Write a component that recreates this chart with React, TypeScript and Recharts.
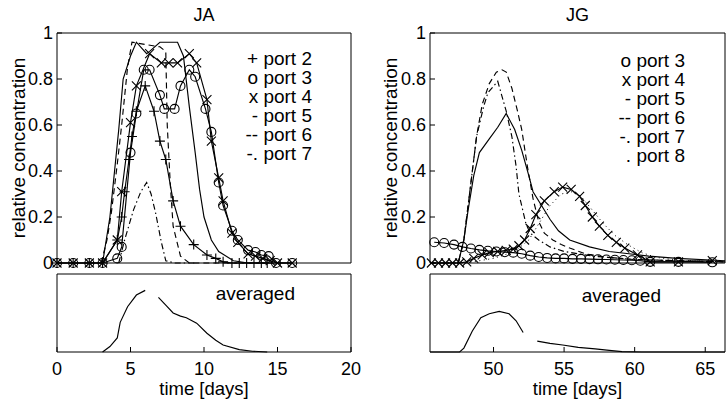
import React from 'react';
import { LineChart, Line, XAxis, YAxis } from 'recharts';

const FONT = '"Liberation Sans", Arial, Helvetica, sans-serif';
const INK = '#000';

// ---------- JA panel data ----------
const jaPort2Days = [0, 1.1, 2.2, 3.1, 4.1, 4.4, 4.6, 4.9, 5.1, 5.4, 6.0, 6.6, 7.0, 7.4, 7.9, 8.4, 9.3, 10.2, 10.8, 11.3, 11.9, 12.4, 12.9, 13.4, 13.9, 14.3];
const jaPort2Vals = [0, 0, 0, 0, 0.1, 0.2, 0.31, 0.45, 0.55, 0.66, 0.77, 0.66, 0.53, 0.45, 0.27, 0.16, 0.08, 0.035, 0.02, 0.005, 0, 0, 0, 0, 0, 0];

const jaPort3Days = [0, 1.1, 2.2, 3.1, 4.1, 4.4, 5.0, 5.4, 5.9, 6.3, 7.0, 7.3, 8.0, 8.4, 9.0, 9.4, 10.1, 10.5, 11.0, 11.3, 11.9, 12.3, 13.0, 13.5, 13.9, 14.4, 14.9, 16.0];
const jaPort3Vals = [0, 0, 0, 0, 0.02, 0.07, 0.48, 0.65, 0.84, 0.84, 0.73, 0.67, 0.67, 0.77, 0.84, 0.81, 0.67, 0.57, 0.35, 0.25, 0.14, 0.1, 0.056, 0.048, 0.035, 0.03, 0, 0];

const jaPort4Days = [0, 1.1, 2.2, 3.1, 4.1, 4.4, 5.0, 5.4, 6.3, 7.1, 7.6, 8.2, 9.0, 9.5, 10.2, 10.5, 11.0, 11.3, 11.9, 12.3, 13.0, 13.5, 14.0, 14.5, 15.0, 16.0];
const jaPort4Vals = [0, 0, 0, 0, 0.1, 0.31, 0.61, 0.77, 0.91, 0.87, 0.87, 0.87, 0.91, 0.87, 0.71, 0.53, 0.37, 0.27, 0.13, 0.09, 0.04, 0.03, 0.02, 0.01, 0, 0];

const jaPort5Days = [3.1, 3.6, 4.2, 4.5, 5.0, 5.4, 6.1, 6.3, 7.0, 8.2, 8.6, 9.0, 9.4, 9.7, 10.0, 10.5, 11.0, 12.0, 13.0, 16.0];
const jaPort5Vals = [0, 0.2, 0.58, 0.8, 0.9, 0.96, 0.91, 0.92, 0.96, 0.96, 0.9, 0.68, 0.48, 0.32, 0.2, 0.1, 0.05, 0.01, 0, 0];

const jaPort6Days = [3.0, 3.4, 3.7, 4.1, 4.4, 4.8, 5.1, 6.0, 7.0, 7.4, 7.5, 7.7, 7.9, 8.4, 9.0, 12.0];
const jaPort6Vals = [0, 0.1, 0.22, 0.43, 0.6, 0.85, 0.96, 0.95, 0.94, 0.92, 0.6, 0.35, 0.16, 0.03, 0, 0];

const jaPort7Days = [4.2, 4.6, 5.2, 5.7, 6.1, 6.4, 6.7, 7.1, 7.4, 8.0, 9.5];
const jaPort7Vals = [0, 0.1, 0.23, 0.31, 0.35, 0.3, 0.22, 0.09, 0.01, 0, 0];

const jaAvgDays = [3.1, 3.6, 4.1, 4.3, 4.8, 5.4, 6.0, 6.5, 6.9, 7.4, 7.9, 8.4, 8.8, 9.5, 10.2, 10.8, 11.3, 12.4, 13.3, 14.3];
const jaAvgVals = [0, 0.07, 0.18, 0.38, 0.58, 0.73, 0.79, null, 0.7, 0.6, 0.5, 0.46, 0.44, 0.37, 0.24, 0.15, 0.09, 0.03, 0.01, 0];

// ---------- JG panel data ----------
const jgPort3Days = [45.8, 46.5, 47.2, 47.8, 48.4, 49.0, 49.6, 50.2, 50.8, 51.4, 52.0, 52.6, 53.2, 53.8, 54.4, 55.0, 55.6, 56.2, 56.8, 57.4, 58.0, 58.6, 59.2, 59.8, 60.4, 61.1, 63.1, 65.5];
const jgPort3Vals = [0.09, 0.087, 0.08, 0.07, 0.063, 0.057, 0.053, 0.05, 0.047, 0.045, 0.04, 0.032, 0.026, 0.022, 0.02, 0.02, 0.018, 0.018, 0.017, 0.016, 0.015, 0.014, 0.013, 0.012, 0.01, 0.005, 0.005, 0.003];

const jgPort4Days = [45.6, 46.1, 46.6, 47.1, 47.6, 48.1, 48.6, 49.2, 49.7, 50.3, 50.9, 51.4, 51.8, 52.2, 52.6, 53.0, 53.6, 54.3, 54.9, 55.5, 56.1, 56.5, 57.0, 57.5, 58.1, 58.7, 59.3, 60.2, 61.1, 63.1, 65.5];
const jgPort4Vals = [0, 0, 0, 0, 0, 0.005, 0.02, 0.035, 0.045, 0.05, 0.055, 0.06, 0.075, 0.1, 0.15, 0.21, 0.27, 0.31, 0.33, 0.32, 0.29, 0.25, 0.2, 0.16, 0.12, 0.09, 0.065, 0.035, 0.005, 0.005, 0.01];

const jgPort5Days = [45.5, 47.5, 47.9, 48.2, 48.6, 49.0, 49.7, 50.3, 50.9, 51.5, 52.0, 52.5, 52.8, 53.5, 54.0, 54.6, 55.4, 56.8, 58.2, 59.6, 61.0, 63.0, 66.4];
const jgPort5Vals = [0, 0, 0.1, 0.23, 0.38, 0.48, 0.54, 0.59, 0.65, 0.58, 0.49, 0.38, 0.31, 0.24, 0.19, 0.14, 0.1, 0.07, 0.05, 0.04, 0.03, 0.02, 0.01];

const jgPort6Days = [45.5, 47.5, 47.9, 48.3, 48.8, 49.2, 49.7, 50.2, 50.6, 50.9, 51.3, 51.7, 52.0, 52.4, 52.8, 53.2, 53.6, 54.2, 54.8, 55.4, 56.5, 58.0, 60.0, 63.0, 66.4];
const jgPort6Vals = [0, 0, 0.1, 0.3, 0.55, 0.69, 0.78, 0.83, 0.84, 0.83, 0.76, 0.66, 0.58, 0.42, 0.28, 0.18, 0.13, 0.1, 0.08, 0.065, 0.04, 0.025, 0.015, 0.01, 0.005];

const jgPort7Days = [45.5, 47.5, 47.9, 48.3, 48.8, 49.3, 49.6, 50.3, 50.9, 51.3, 51.6, 51.8, 52.3, 52.6, 53.2, 54.0, 55.0, 57.0, 60.0, 66.4];
const jgPort7Vals = [0, 0, 0.1, 0.3, 0.55, 0.68, 0.74, 0.79, 0.66, 0.55, 0.42, 0.3, 0.17, 0.13, 0.1, 0.07, 0.05, 0.03, 0.015, 0.005];

const jgPort8Days = [45.5, 48.0, 50.0, 51.5, 52.5, 53.3, 54.0, 54.8, 55.5, 56.2, 57.0, 57.8, 58.6, 59.5, 60.5, 61.5, 63.0, 66.4];
const jgPort8Vals = [0, 0, 0.02, 0.05, 0.1, 0.18, 0.25, 0.3, 0.31, 0.29, 0.23, 0.17, 0.12, 0.08, 0.045, 0.025, 0.012, 0.005];

const jgAvgDays = [45.5, 47.6, 47.9, 48.5, 49.1, 49.7, 50.4, 51.1, 51.6, 52.1, 52.6, 53.1, 54.0, 54.9, 56.0, 57.2, 58.2, 59.1, 60.5, 66.4];
const jgAvgVals = [0, 0, 0.05, 0.27, 0.44, 0.49, 0.52, 0.49, 0.4, 0.25, null, 0.14, 0.11, 0.09, 0.06, 0.04, 0.02, 0.005, 0, 0];

// ---------- axes / labels ----------
const jaDomain: [number, number] = [0, 20];
const jaTicks = [0, 5, 10, 15, 20];
const jgDomain: [number, number] = [45.5, 66.4];
const jgTicks = [50, 55, 60, 65];
const mainYTicks = [0, 0.2, 0.4, 0.6, 0.8, 1];
const lowerYTicks = [0.5];

const jaLegend = ['+ port 2', 'o port 3', 'x port 4', '- port 5', '-- port 6', '-. port 7'];
const jgLegend = ['o port 3', 'x port 4', '- port 5', '-- port 6', '-. port 7', '. port 8'];

const pts = (days: number[], vals: (number | null)[]) => days.map((d, i) => ({ d, v: vals[i] }));

type MarkerKind = 'plus' | 'circle' | 'cross';
function markerRenderer(kind: MarkerKind) {
  return (props: any) => {
    const { cx, cy, index } = props;
    const key = `mk-${kind}-${index}`;
    if (cx == null || cy == null || Number.isNaN(cx) || Number.isNaN(cy)) return <g key={key} />;
    if (kind === 'circle') {
      return <circle key={key} cx={cx} cy={cy} r={4.5} fill="none" stroke={INK} strokeWidth={1.1} />;
    }
    if (kind === 'plus') {
      return <path key={key} d={`M${cx - 5},${cy}H${cx + 5}M${cx},${cy - 5}V${cy + 5}`} stroke={INK} strokeWidth={1.1} fill="none" />;
    }
    return <path key={key} d={`M${cx - 4.5},${cy - 4.5}L${cx + 4.5},${cy + 4.5}M${cx - 4.5},${cy + 4.5}L${cx + 4.5},${cy - 4.5}`} stroke={INK} strokeWidth={1.1} fill="none" />;
  };
}

function series(id: string, data: { d: number; v: number | null }[], dash?: string, marker?: MarkerKind, width = 1.15) {
  return (
    <Line
      key={id}
      xAxisId="b"
      yAxisId="l"
      data={data}
      dataKey="v"
      type="linear"
      stroke={INK}
      strokeWidth={width}
      strokeDasharray={dash}
      dot={marker ? markerRenderer(marker) : false}
      activeDot={false}
      isAnimationActive={false}
      connectNulls={false}
    />
  );
}

const DASH = '6 4';
const DASHDOT = '6 3 1.5 3';
const DOT = '1 3.5';

type PanelProps = {
  left: number; top: number; width: number; height: number;
  mTop: number; mRight: number; yWidth: number; xHeight: number;
  xDomain: [number, number]; xTicks: number[]; xLabels: boolean;
  yTicks: number[]; yLabels: boolean;
  title?: string; xLabel?: string; yLabel?: string; yLabelOffset?: number;
  lines: React.ReactNode[];
};

function Panel(p: PanelProps) {
  const tickFont = { fontSize: 18, fill: INK, fontFamily: FONT };
  return (
    <div style={{ position: 'absolute', left: p.left, top: p.top, width: p.width, height: p.height }}>
      <LineChart width={p.width} height={p.height} margin={{ top: p.mTop, right: p.mRight, bottom: 0, left: 0 }}>
        <XAxis
          xAxisId="b" type="number" dataKey="d" domain={p.xDomain} ticks={p.xTicks} interval={0}
          height={p.xHeight} tickSize={-5} tickMargin={15}
          tick={p.xLabels ? tickFont : false}
          axisLine={{ stroke: INK, strokeWidth: 1 }} tickLine={{ stroke: INK }}
          label={p.xLabel ? { value: p.xLabel, position: 'insideBottom', offset: 6, fontSize: 18.5, fill: INK, fontFamily: FONT } : undefined}
        />
        <XAxis
          xAxisId="t" orientation="top" type="number" dataKey="d" domain={p.xDomain} ticks={p.xTicks} interval={0}
          height={1} tickSize={-5} tick={false}
          axisLine={{ stroke: INK, strokeWidth: 1 }} tickLine={{ stroke: INK }}
          label={p.title ? { value: p.title, position: 'top', offset: 11, fontSize: 18, fill: INK, fontFamily: FONT } : undefined}
        />
        <YAxis
          yAxisId="l" type="number" domain={[0, 1]} ticks={p.yTicks} interval={0}
          width={p.yWidth} tickSize={-5} tickMargin={9}
          tick={p.yLabels ? tickFont : false}
          axisLine={{ stroke: INK, strokeWidth: 1 }} tickLine={{ stroke: INK }}
          label={p.yLabel ? { value: p.yLabel, angle: -90, position: 'insideLeft', offset: p.yLabelOffset, fontSize: 19, fill: INK, fontFamily: FONT, style: { textAnchor: 'middle' } } : undefined}
        />
        <YAxis
          yAxisId="r" orientation="right" type="number" domain={[0, 1]} ticks={p.yTicks} interval={0}
          width={1} tickSize={-5} tick={false}
          axisLine={{ stroke: INK, strokeWidth: 1 }} tickLine={{ stroke: INK }}
        />
        {p.lines}
      </LineChart>
    </div>
  );
}

function TextBlock({ lines, right, top }: { lines: string[]; right: number; top: number }) {
  return (
    <div style={{ position: 'absolute', right, top, textAlign: 'right', fontFamily: FONT, fontSize: 19, lineHeight: '19px', color: INK, whiteSpace: 'pre' }}>
      {lines.map((t) => <div key={t}>{t}</div>)}
    </div>
  );
}

export default function App() {
  const jaMain = [
    series('ja7', pts(jaPort7Days, jaPort7Vals), DASHDOT),
    series('ja6', pts(jaPort6Days, jaPort6Vals), DASH),
    series('ja5', pts(jaPort5Days, jaPort5Vals)),
    series('ja2', pts(jaPort2Days, jaPort2Vals), undefined, 'plus'),
    series('ja4', pts(jaPort4Days, jaPort4Vals), undefined, 'cross'),
    series('ja3', pts(jaPort3Days, jaPort3Vals), undefined, 'circle'),
  ];
  const jgMain = [
    series('jg8', pts(jgPort8Days, jgPort8Vals), DOT, undefined, 1),
    series('jg7', pts(jgPort7Days, jgPort7Vals), DASHDOT),
    series('jg6', pts(jgPort6Days, jgPort6Vals), DASH),
    series('jg5', pts(jgPort5Days, jgPort5Vals)),
    series('jg4', pts(jgPort4Days, jgPort4Vals), undefined, 'cross'),
    series('jg3', pts(jgPort3Days, jgPort3Vals), undefined, 'circle'),
  ];
  const jaLow = [series('jaavg', pts(jaAvgDays, jaAvgVals))];
  const jgLow = [series('jgavg', pts(jgAvgDays, jgAvgVals))];

  return (
    <div style={{ position: 'absolute', left: 0, top: 0, width: 726, height: 401, background: '#fff', overflow: 'hidden' }}>
      <Panel left={0} top={273} width={363} height={128} mTop={0} mRight={11} yWidth={57} xHeight={49}
        xDomain={jaDomain} xTicks={jaTicks} xLabels yTicks={lowerYTicks} yLabels={false}
        xLabel="time [days]" lines={jaLow} />
      <Panel left={363} top={273} width={363} height={128} mTop={0} mRight={0} yWidth={67} xHeight={49}
        xDomain={jgDomain} xTicks={jgTicks} xLabels yTicks={lowerYTicks} yLabels={false}
        xLabel="time [days]" lines={jgLow} />
      <Panel left={0} top={0} width={363} height={276} mTop={32} mRight={11} yWidth={57} xHeight={13}
        xDomain={jaDomain} xTicks={jaTicks} xLabels={false} yTicks={mainYTicks} yLabels
        title="JA" yLabel="relative concentration" yLabelOffset={18} lines={jaMain} />
      <Panel left={363} top={0} width={363} height={276} mTop={32} mRight={0} yWidth={67} xHeight={13}
        xDomain={jgDomain} xTicks={jgTicks} xLabels={false} yTicks={mainYTicks} yLabels
        title="JG" yLabel="relative concentration" yLabelOffset={27} lines={jgMain} />
      <TextBlock lines={jaLegend} right={726 - 312} top={49} />
      <TextBlock lines={jgLegend} right={726 - 685} top={51} />
      <TextBlock lines={['averaged']} right={726 - 295} top={284} />
      <TextBlock lines={['averaged']} right={726 - 661} top={286} />
    </div>
  );
}
